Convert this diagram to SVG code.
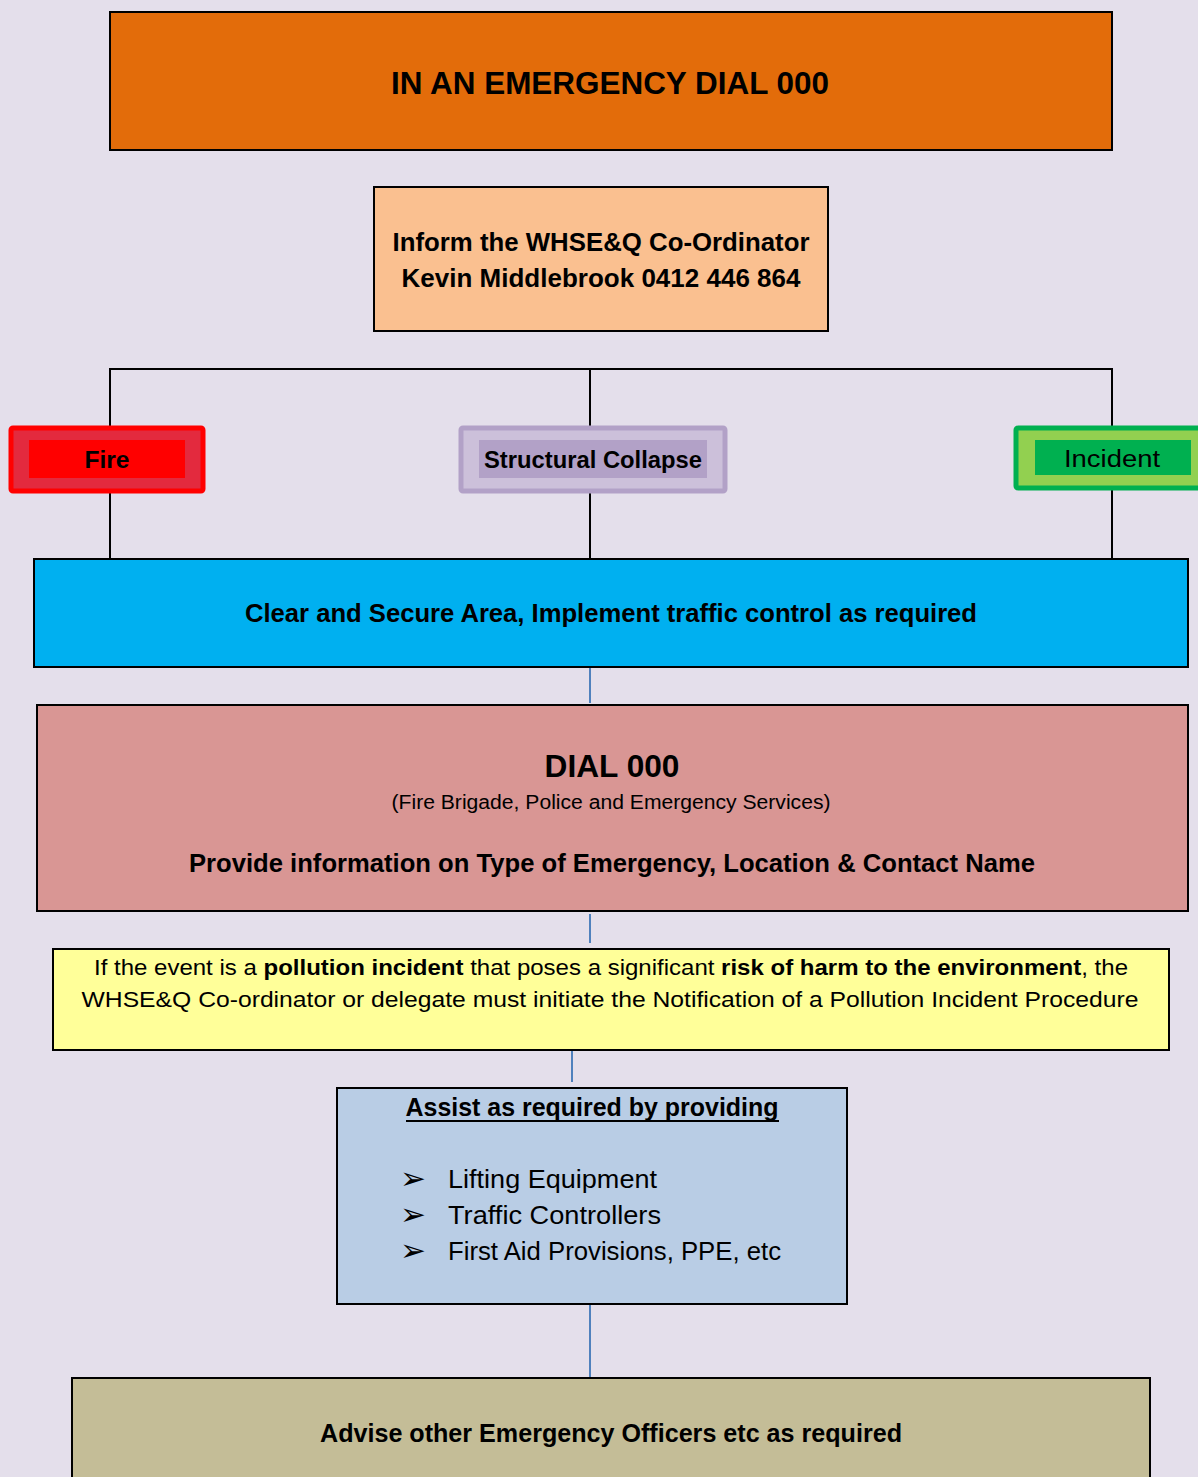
<svg xmlns="http://www.w3.org/2000/svg" width="1198" height="1477" viewBox="0 0 1198 1477">
<style>
text{font-family:"Liberation Sans",Arial,sans-serif;fill:#000;text-anchor:middle}
.b{font-weight:bold}
.box{stroke:#000;stroke-width:2}
.tree{stroke:#000;stroke-width:2;fill:none}
.blue{stroke:#4F81BD;stroke-width:2;fill:none}
.bul{font-family:"DejaVu Sans",sans-serif;text-anchor:start}
</style>
<rect width="1198" height="1477" fill="#E4DFEB"/>
<g id="connectors">
<path class="tree" d="M110,558 V369 H1112 V558 M590,369 V558"/>
<path class="blue" d="M590,668 V703 M590,914 V943 M572,1050 V1082 M590,1302 V1377"/>
</g>
<g id="n-emergency">
<rect class="box" x="110" y="12" width="1002" height="138" fill="#E36C0A"/>
<text class="b" x="610" y="94" font-size="32" textLength="438" lengthAdjust="spacingAndGlyphs">IN AN EMERGENCY DIAL 000</text>
</g>
<g id="n-inform">
<rect class="box" x="374" y="187" width="454" height="144" fill="#FAC090"/>
<text class="b" x="601" y="251" font-size="26" textLength="417" lengthAdjust="spacingAndGlyphs">Inform the WHSE&amp;Q Co-Ordinator</text>
<text class="b" x="601" y="287" font-size="26" textLength="399" lengthAdjust="spacingAndGlyphs">Kevin Middlebrook 0412 446 864</text>
</g>
<g id="n-fire">
<rect x="11" y="428" width="192" height="63" rx="2" fill="#E32A3E" stroke="#FF0000" stroke-width="5"/>
<rect x="29" y="440" width="156" height="38" fill="#FF0000"/>
<text class="b" x="107" y="468" font-size="24" textLength="45" lengthAdjust="spacingAndGlyphs">Fire</text>
</g>
<g id="n-collapse">
<rect x="461" y="428" width="264" height="63" rx="2" fill="#CCC0DA" stroke="#B2A1C7" stroke-width="5"/>
<rect x="479" y="440" width="228" height="38" fill="#B2A1C7"/>
<text class="b" x="593" y="468" font-size="24" textLength="218" lengthAdjust="spacingAndGlyphs">Structural Collapse</text>
</g>
<g id="n-incident">
<rect x="1016" y="428" width="200" height="60" rx="2" fill="#92D050" stroke="#00B050" stroke-width="5"/>
<rect x="1035" y="440" width="156" height="35" fill="#00B050"/>
<text x="1112" y="467" font-size="23" textLength="96" lengthAdjust="spacingAndGlyphs">Incident</text>
</g>
<g id="n-clear">
<rect class="box" x="34" y="559" width="1154" height="108" fill="#00B0F0"/>
<text class="b" x="611" y="622" font-size="25" textLength="732" lengthAdjust="spacingAndGlyphs">Clear and Secure Area, Implement traffic control as required</text>
</g>
<g id="n-dial">
<rect class="box" x="37" y="705" width="1151" height="206" fill="#D99694"/>
<text class="b" x="612" y="777" font-size="31" textLength="135" lengthAdjust="spacingAndGlyphs">DIAL 000</text>
<text x="611" y="809" font-size="20" textLength="439" lengthAdjust="spacingAndGlyphs">(Fire Brigade, Police and Emergency Services)</text>
<text class="b" x="612" y="872" font-size="25" textLength="846" lengthAdjust="spacingAndGlyphs">Provide information on Type of Emergency, Location &amp; Contact Name</text>
</g>
<g id="n-pollution">
<rect class="box" x="53" y="949" width="1116" height="101" fill="#FFFF99"/>
<text x="611" y="975" font-size="22" textLength="1034" lengthAdjust="spacingAndGlyphs">If the event is a <tspan class="b">pollution incident</tspan> that poses a significant <tspan class="b">risk of harm to the environment</tspan>, the</text>
<text x="610" y="1007" font-size="22" textLength="1057" lengthAdjust="spacingAndGlyphs">WHSE&amp;Q Co-ordinator or delegate must initiate the Notification of a Pollution Incident Procedure</text>
</g>
<g id="n-assist">
<rect class="box" x="337" y="1088" width="510" height="216" fill="#B9CDE5"/>
<text class="b" x="592" y="1116" font-size="25" textLength="373" lengthAdjust="spacingAndGlyphs">Assist as required by providing</text>
<line x1="406" y1="1121" x2="779" y2="1121" stroke="#000" stroke-width="2"/>
<text class="bul" x="400" y="1189" font-size="31">➢</text>
<text class="bul" x="400" y="1225" font-size="31">➢</text>
<text class="bul" x="400" y="1261" font-size="31">➢</text>
<text x="448" y="1188" font-size="26" style="text-anchor:start" textLength="209" lengthAdjust="spacingAndGlyphs">Lifting Equipment</text>
<text x="448" y="1224" font-size="26" style="text-anchor:start" textLength="213" lengthAdjust="spacingAndGlyphs">Traffic Controllers</text>
<text x="448" y="1260" font-size="26" style="text-anchor:start" textLength="333" lengthAdjust="spacingAndGlyphs">First Aid Provisions, PPE, etc</text>
</g>
<g id="n-advise">
<rect class="box" x="72" y="1378" width="1078" height="110" fill="#C4BD97"/>
<text class="b" x="611" y="1442" font-size="25" textLength="582" lengthAdjust="spacingAndGlyphs">Advise other Emergency Officers etc as required</text>
</g>
</svg>
